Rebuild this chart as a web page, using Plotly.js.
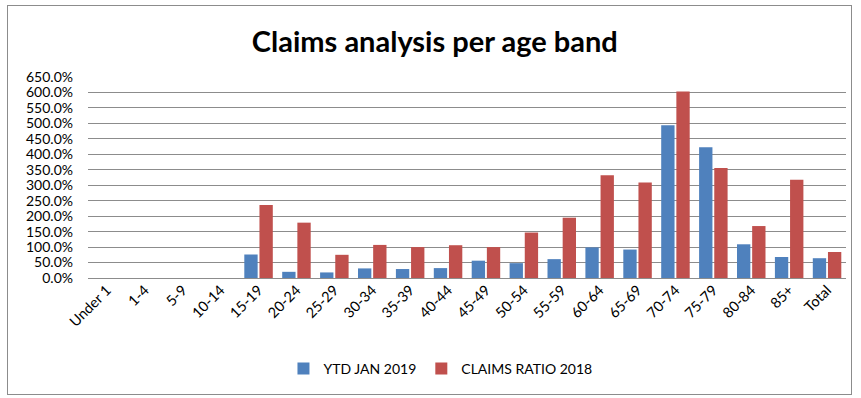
<!DOCTYPE html>
<html>
<head>
<meta charset="utf-8">
<script src="https://cdn.plot.ly/plotly-3.0.1.min.js"></script>
<style>
  html, body { margin: 0; padding: 0; background: #fff; }
  #wrap { position: relative; width: 861px; height: 398px; }
  #chart { position: absolute; left: 0; top: 0; width: 861px; height: 398px; }
  #frame { position: absolute; left: 7px; top: 5px; width: 845px; height: 390px; border: 1px solid #8c8c8c; box-sizing: border-box; pointer-events: none; }
</style>
</head>
<body>
<div id="wrap">
  <div id="chart"></div>
  <div id="frame"></div>
</div>
<script>
const categories = ["Under 1", "1-4", "5-9", "10-14", "15-19", "20-24", "25-29", "30-34", "35-39", "40-44",
  "45-49", "50-54", "55-59", "60-64", "65-69", "70-74", "75-79", "80-84", "85+", "Total"];
const ytdJan2019 = [0, 0, 0, 0, 0.76, 0.20, 0.18, 0.31, 0.29, 0.32,
  0.56, 0.48, 0.61, 0.99, 0.92, 4.94, 4.23, 1.09, 0.68, 0.64];
const claimsRatio2018 = [0, 0, 0, 0, 2.36, 1.79, 0.75, 1.07, 1.00, 1.06,
  1.00, 1.47, 1.95, 3.32, 3.09, 6.03, 3.56, 1.68, 3.18, 0.84];
const seriesNames = ["YTD JAN 2019", "CLAIMS RATIO 2018"];

const FONT = "Lato, 'Open Sans', 'Liberation Sans', sans-serif";

const traces = [
  { type: "bar", name: seriesNames[0], x: categories, y: ytdJan2019,
    marker: { color: "#4F81BD" }, hoverinfo: "none" },
  { type: "bar", name: seriesNames[1], x: categories, y: claimsRatio2018,
    marker: { color: "#C0504D" }, hoverinfo: "none" }
];

const layout = {
  width: 861, height: 398,
  margin: { l: 88, r: 15, t: 77, b: 120 },
  paper_bgcolor: "#fff", plot_bgcolor: "#fff",
  font: { family: FONT, size: 14, color: "#000" },
  title: { text: "<b>Claims analysis per age band</b>", x: 0.505, xanchor: "center", y: 0.895, yanchor: "middle",
    font: { family: FONT, size: 29, color: "#000" } },
  barmode: "group", bargap: 0.2, bargroupgap: 0.12,
  xaxis: { type: "category", tickangle: -45, tickfont: { family: FONT, size: 14.5, color: "#000" },
    showgrid: false, showline: false, ticks: "", automargin: false },
  yaxis: { range: [0, 6.5], dtick: 0.5, tickformat: ".1%", showgrid: true, gridcolor: "#8c8c8c", gridwidth: 1,
    zeroline: true, zerolinecolor: "#8c8c8c", zerolinewidth: 1, ticks: "", ticklabelstandoff: 14,
    tickfont: { family: FONT, size: 14, color: "#000" }, automargin: false, fixedrange: true },
  legend: { orientation: "h", x: 0.465, xanchor: "center", y: -0.452, yanchor: "middle",
    font: { family: FONT, size: 14, color: "#000" }, itemwidth: 30, traceorder: "normal" },
  showlegend: true
};

Plotly.newPlot("chart", traces, layout, { displayModeBar: false, staticPlot: true });
</script>
</body>
</html>
